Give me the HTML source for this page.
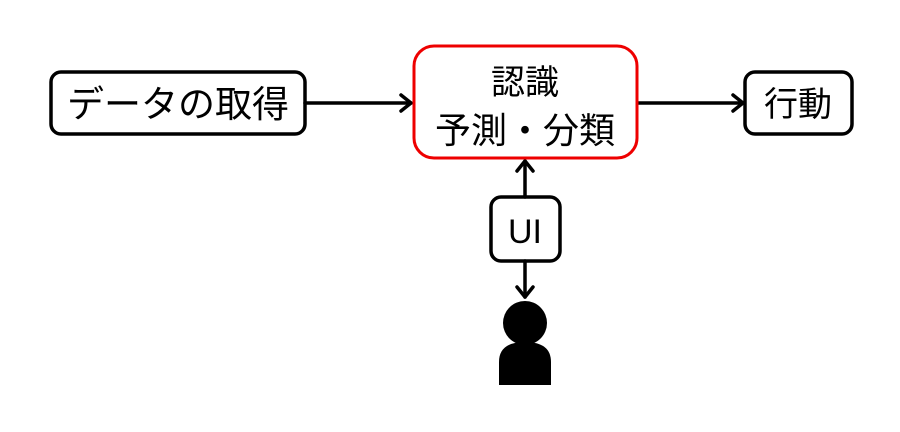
<!DOCTYPE html>
<html><head><meta charset="utf-8"><style>
html,body{margin:0;padding:0;background:#fff;width:900px;height:432px;overflow:hidden}
text{font-family:"Liberation Sans","Noto Sans CJK JP",sans-serif;fill:#000}
</style></head><body>
<svg width="900" height="432" viewBox="0 0 900 432" xmlns="http://www.w3.org/2000/svg">
<g fill="none" stroke="#000" stroke-width="3.5" stroke-linecap="round" stroke-linejoin="round">
<rect x="51" y="72" width="254" height="62" rx="10" fill="#fff"/>
<rect x="745" y="72" width="107" height="62" rx="10" fill="#fff"/>
<rect x="491" y="197" width="69" height="64" rx="10" fill="#fff"/>
<line x1="305" y1="103" x2="411" y2="103"/>
<polyline points="401,95 411,103 401,111"/>
<line x1="637" y1="103" x2="743" y2="103"/>
<polyline points="733,95 743,103 733,111"/>
<line x1="525" y1="197" x2="525" y2="161"/>
<polyline points="517,171 525,161 533,171"/>
<line x1="525" y1="261" x2="525" y2="297"/>
<polyline points="517,287 525,297 533,287"/>
</g>
<rect x="414" y="46" width="223" height="112" rx="20" fill="#fff" stroke="#e00" stroke-width="3"/>
<circle cx="525" cy="323" r="22" fill="#000"/>
<path d="M499,385 V362 Q499,342 525,342 Q551,342 551,362 V385 Z" fill="#000"/>
<text x="178" y="117" font-size="37" text-anchor="middle">データの取得</text>
<text x="798" y="116" font-size="34" text-anchor="middle">行動</text>
<text x="525" y="94" font-size="34" text-anchor="middle">認識</text>
<text x="525" y="143" font-size="36" text-anchor="middle">予測・分類</text>
<text x="525" y="243" font-size="34" text-anchor="middle">UI</text>
</svg>
</body></html>
